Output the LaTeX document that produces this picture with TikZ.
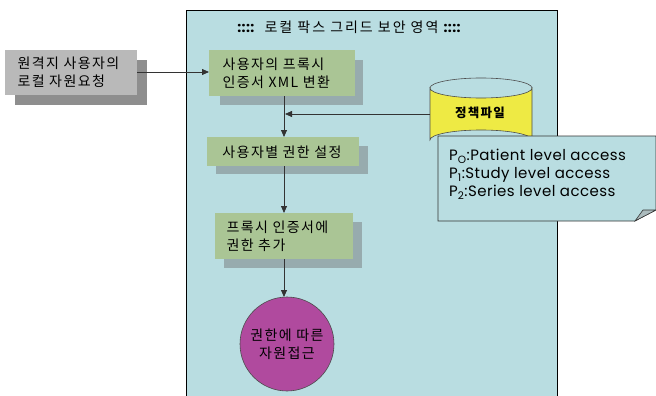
\documentclass[tikz,border=0pt]{standalone}
\usepackage{fontspec}
\setmainfont{Poppins}
\newfontfamily\kr[LetterSpace=10]{Noto Sans CJK KR}
\newfontfamily\krtitle[LetterSpace=14]{Noto Sans CJK KR}
\newfontfamily\notefont[LetterSpace=3]{Poppins}
\usetikzlibrary{arrows.meta,shapes.geometric}
\definecolor{panelblue}{HTML}{B9DDE1}
\definecolor{boxgreen}{HTML}{AAC595}
\definecolor{boxshadow}{HTML}{97ABAE}
\definecolor{graybox}{HTML}{B9B9B9}
\definecolor{grayshadow}{HTML}{8E8E8E}
\definecolor{cylyellow}{HTML}{EEEA44}
\definecolor{circmag}{HTML}{B04A9E}
\tikzset{
  arr/.style={draw=black!80, line width=0.8pt, -{Triangle[length=7pt,width=6pt]}},
  krtext/.style={align=left, font=\kr\fontsize{14}{18}\selectfont},
  shade/.style={fill=boxshadow, draw=none}
}
\begin{document}
\begin{tikzpicture}[x=1pt,y=-1pt]
\useasboundingbox (0,0) rectangle (656,396);
% panel
\fill[panelblue] (186,10) rectangle (557,400);
\draw[black, line width=0.8pt] (186,400) -- (186,10) -- (557,10) -- (557,400);
\node[font=\krtitle\fontsize{14}{16}\selectfont] (title) at (349,27) {{\notefont\bfseries ::::}\ \ 로컬 팍스 그리드 보안 영역 {\notefont\bfseries ::::}};
% left box
\fill[grayshadow] (15,60) rectangle (147,105);
\fill[graybox] (5,50) rectangle (137,95);
\node[anchor=west, krtext] (req) at (14,72) {원격지 사용자의\\로컬 자원요청};
\coordinate (reqE) at (137,72);
% box1
\fill[shade] (220,60) rectangle (363,105);
\fill[boxgreen] (209,50) rectangle (355,96);
\node[anchor=west, krtext] (b1) at (219,73) {사용자의 프록시\\인증서 XML 변환};
\coordinate (b1W) at (209,72);
\coordinate (b1S) at (284,96);
% box2
\fill[shade] (216,146) rectangle (368,174);
\fill[boxgreen] (207,137) rectangle (359,166);
\node[krtext] (b2) at (282,152) {사용자별 권한 설정};
\coordinate (b2N) at (284,137);
\coordinate (b2S) at (284,166);
% box3
\fill[shade] (224,222) rectangle (362,268);
\fill[boxgreen] (215,213) rectangle (353,259);
\node[anchor=west, krtext] (b3) at (223,236) {프록시 인증서에\\권한 추가};
\coordinate (b3N) at (284,213);
\coordinate (b3S) at (284,259);
% circle
\node[circle, fill=circmag, draw=black!70, line width=0.6pt, minimum size=94pt, inner sep=0pt, align=center, font=\kr\fontsize{14}{18}\selectfont] (acc) at (287,344) {권한에 따른\\자원접근};
\coordinate (accN) at (284,297);
% cylinder
\fill[cylyellow, draw=black!70, line width=0.6pt] (430,88) -- (430,140) arc[start angle=180, end angle=360, x radius=51, y radius=10] -- (532,88) arc[start angle=0, end angle=180, x radius=51, y radius=10] -- cycle;
\draw[black!70, line width=0.6pt] (430,88) arc[start angle=180, end angle=360, x radius=51, y radius=10];
\node[font=\kr\bfseries\fontsize{12.5}{14}\selectfont] (pol) at (480,113) {정책파일};
\coordinate (polW) at (430,114);
\coordinate (join) at (285,114);
% note
\fill[panelblue, draw=black!80, line width=0.6pt] (438,136) -- (656,136) -- (656,210) -- (635,221) -- (438,221) -- cycle;
\fill[boxshadow!80, draw=black!80, line width=0.6pt] (635,221) -- (643,210) -- (656,210) -- cycle;
\node[anchor=north west, align=left, font=\notefont\fontsize{15}{18}\selectfont, inner sep=0pt] (note) at (449,149)
  {P\textsubscript{O}:Patient level access\\P\textsubscript{1}:Study level access\\P\textsubscript{2}:Series level access};
% connectors
\draw[arr] (reqE) -- (b1W);
\draw[arr] (b1S) -- (b2N);
\draw[arr] (polW) -- (join);
\draw[arr] (b2S) -- (b3N);
\draw[arr] (b3S) -- (accN);
\end{tikzpicture}
\end{document}
